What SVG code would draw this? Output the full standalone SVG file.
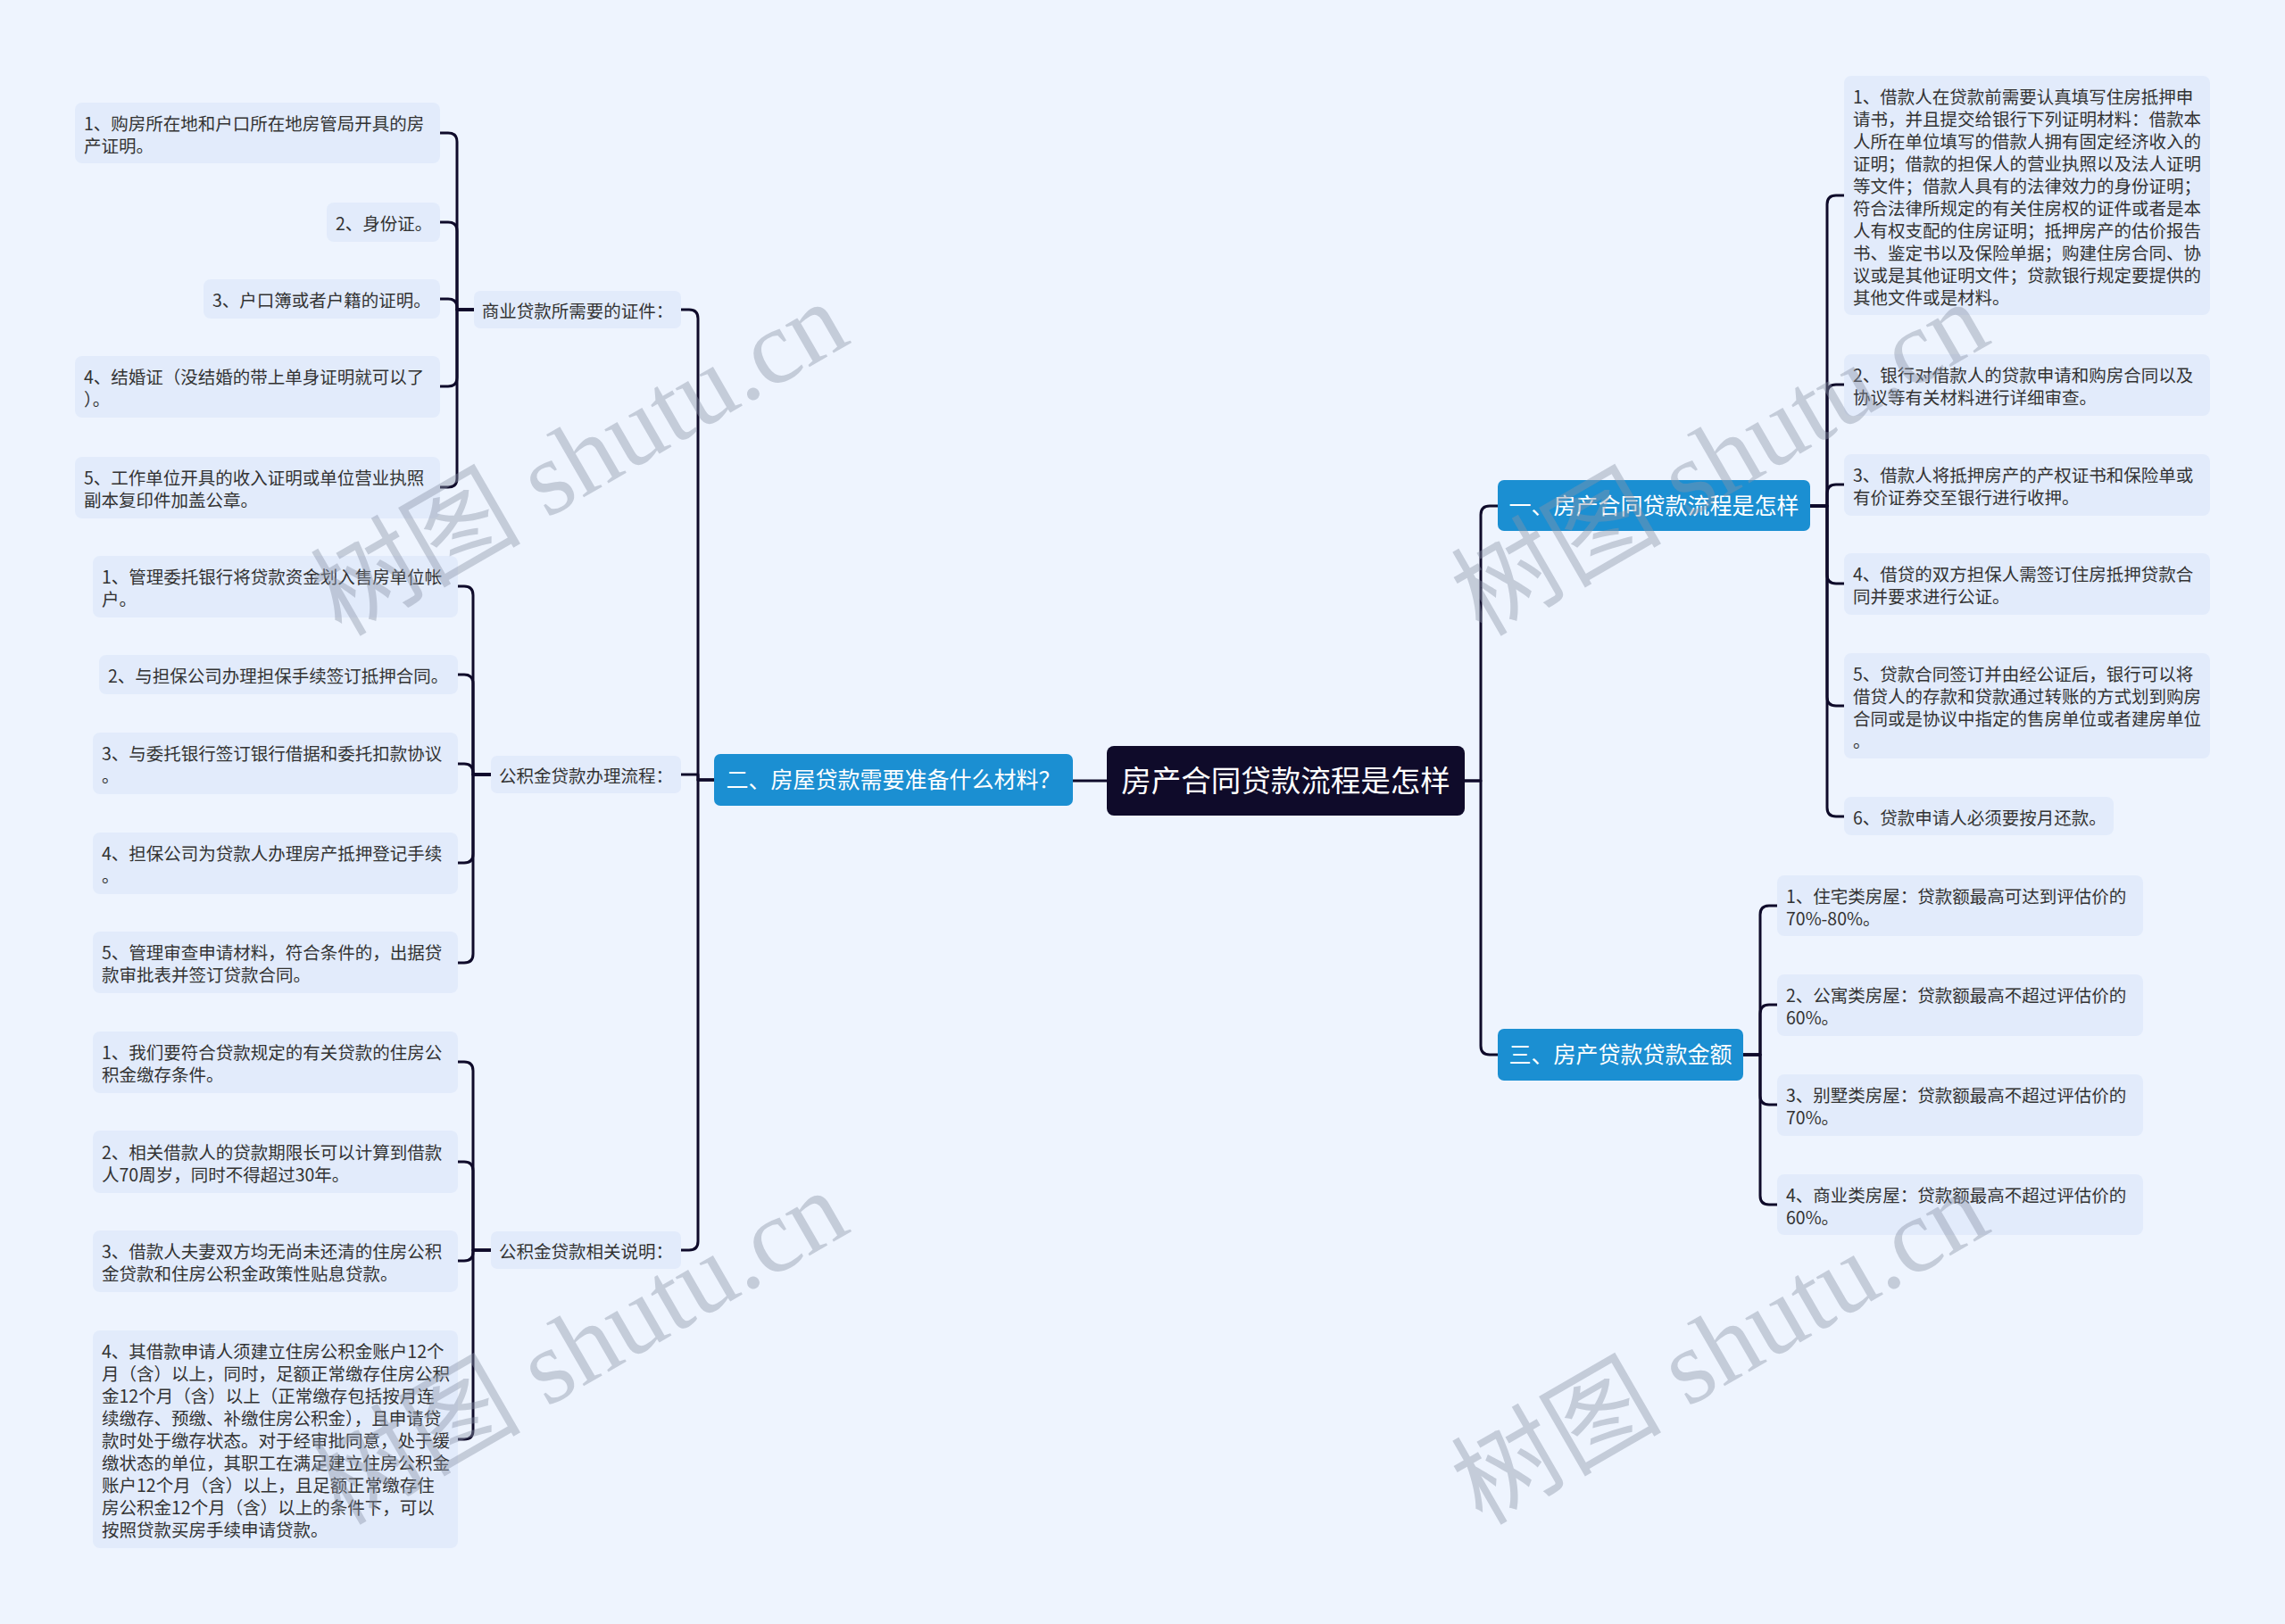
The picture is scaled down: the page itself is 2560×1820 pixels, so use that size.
<svg xmlns="http://www.w3.org/2000/svg" width="2560" height="1820" viewBox="0 0 2560 1820">
<style>
.bg{fill:#eef4fe}
.leaf rect{fill:#e2ebfb}
.leaf text,.sub text{font-family:"Noto Sans CJK SC","Noto Sans",sans-serif;font-size:19.5px;fill:#333333}
.sub rect{fill:#e2ebfb}
.br rect{fill:#1b8fd2}
.br text{font-family:"Noto Sans CJK SC","Noto Sans",sans-serif;font-size:25px;fill:#ffffff;text-anchor:middle}
.root rect{fill:#0f0b2a}
.root text{font-family:"Noto Sans CJK SC","Noto Sans",sans-serif;font-size:33.5px;fill:#ffffff;text-anchor:middle}
.sub text{text-anchor:middle}
#connectors path{fill:none;stroke:#0f0b2a;stroke-width:3;stroke-linecap:round;stroke-linejoin:round}
.wm{font-family:"Liberation Serif","Noto Sans CJK SC",serif;font-size:118px;fill:#8a93a6;fill-opacity:0.42;text-anchor:middle}
</style>
<rect class="bg" x="0" y="0" width="2560" height="1820"/>
<g id="connectors">
<path d="M1240,875 H1202"/>
<path d="M800,874 H782 V357 Q782,347 772,347 H763"/>
<path d="M800,874 H782 V868 H763"/>
<path d="M800,874 H782 V1391 Q782,1401 772,1401 H763"/>
<path d="M1641,875 H1659 V577 Q1659,567 1669,567 H1678"/>
<path d="M1641,875 H1659 V1172 Q1659,1182 1669,1182 H1678"/>
<path d="M531,347 H512 V159 Q512,149 502,149 H493"/>
<path d="M531,347 H512 V259 Q512,249 502,249 H493"/>
<path d="M531,347 H512 V345 Q512,335 502,335 H493"/>
<path d="M531,347 H512 V423 Q512,433 502,433 H493"/>
<path d="M531,347 H512 V536 Q512,546 502,546 H493"/>
<path d="M550,868 H530 V667 Q530,657 520,657 H513"/>
<path d="M550,868 H530 V766 Q530,756 520,756 H513"/>
<path d="M550,868 H530 V866 Q530,856 520,856 H513"/>
<path d="M550,868 H530 V957 Q530,967 520,967 H513"/>
<path d="M550,868 H530 V1069 Q530,1079 520,1079 H513"/>
<path d="M550,1401 H530 V1200 Q530,1190 520,1190 H513"/>
<path d="M550,1401 H530 V1312 Q530,1302 520,1302 H513"/>
<path d="M550,1401 H530 V1403 Q530,1413 520,1413 H513"/>
<path d="M550,1401 H530 V1603 Q530,1613 520,1613 H513"/>
<path d="M2028,567 H2047 V229 Q2047,219 2057,219 H2066"/>
<path d="M2028,567 H2047 V441 Q2047,431 2057,431 H2066"/>
<path d="M2028,567 H2047 V553 Q2047,543 2057,543 H2066"/>
<path d="M2028,567 H2047 V644 Q2047,654 2057,654 H2066"/>
<path d="M2028,567 H2047 V781 Q2047,791 2057,791 H2066"/>
<path d="M2028,567 H2047 V905 Q2047,915 2057,915 H2066"/>
<path d="M1953,1182 H1972 V1025 Q1972,1015 1982,1015 H1991"/>
<path d="M1953,1182 H1972 V1136 Q1972,1126 1982,1126 H1991"/>
<path d="M1953,1182 H1972 V1228 Q1972,1238 1982,1238 H1991"/>
<path d="M1953,1182 H1972 V1340 Q1972,1350 1982,1350 H1991"/>
</g>
<g id="root" class="root"><rect x="1240" y="836" width="401" height="78" rx="8"/><text x="1440.5" y="887">房产合同贷款流程是怎样</text></g>
<g id="b2" class="br"><rect x="800" y="845" width="402" height="58" rx="7"/><text x="1001" y="883">二、房屋贷款需要准备什么材料？</text></g>
<g id="b1" class="br"><rect x="1678" y="538" width="350" height="57" rx="7"/><text x="1853" y="576">一、房产合同贷款流程是怎样</text></g>
<g id="b3" class="br"><rect x="1678" y="1153" width="275" height="58" rx="7"/><text x="1815.5" y="1191">三、房产贷款贷款金额</text></g>
<g id="s1" class="sub"><rect x="531" y="326" width="232" height="42" rx="7"/><text x="647" y="356">商业贷款所需要的证件：</text></g>
<g id="s2" class="sub"><rect x="550" y="847" width="213" height="42" rx="7"/><text x="656.5" y="877">公积金贷款办理流程：</text></g>
<g id="s3" class="sub"><rect x="550" y="1380" width="213" height="42" rx="7"/><text x="656.5" y="1410">公积金贷款相关说明：</text></g>
<g id="l1" class="leaf"><rect x="84" y="115" width="409" height="68" rx="8"/><text x="94" y="145.5">1、购房所在地和户口所在地房管局开具的房</text><text x="94" y="170.5">产证明。</text></g>
<g id="l2" class="leaf"><rect x="366" y="227" width="127" height="44" rx="8"/><text x="376" y="258">2、身份证。</text></g>
<g id="l3" class="leaf"><rect x="228" y="313" width="265" height="44" rx="8"/><text x="238" y="344">3、户口簿或者户籍的证明。</text></g>
<g id="l4" class="leaf"><rect x="84" y="399" width="409" height="69" rx="8"/><text x="94" y="430">4、结婚证（没结婚的带上单身证明就可以了</text><text x="94" y="455">）。</text></g>
<g id="l5" class="leaf"><rect x="84" y="512" width="409" height="69" rx="8"/><text x="94" y="543">5、工作单位开具的收入证明或单位营业执照</text><text x="94" y="568">副本复印件加盖公章。</text></g>
<g id="m1" class="leaf"><rect x="104" y="623" width="409" height="69" rx="8"/><text x="114" y="654">1、管理委托银行将贷款资金划入售房单位帐</text><text x="114" y="679">户。</text></g>
<g id="m2" class="leaf"><rect x="111" y="734" width="402" height="44" rx="8"/><text x="121" y="765">2、与担保公司办理担保手续签订抵押合同。</text></g>
<g id="m3" class="leaf"><rect x="104" y="821" width="409" height="69" rx="8"/><text x="114" y="852">3、与委托银行签订银行借据和委托扣款协议</text><text x="114" y="877">。</text></g>
<g id="m4" class="leaf"><rect x="104" y="933" width="409" height="69" rx="8"/><text x="114" y="964">4、担保公司为贷款人办理房产抵押登记手续</text><text x="114" y="989">。</text></g>
<g id="m5" class="leaf"><rect x="104" y="1044" width="409" height="69" rx="8"/><text x="114" y="1075">5、管理审查申请材料，符合条件的，出据贷</text><text x="114" y="1100">款审批表并签订贷款合同。</text></g>
<g id="n1" class="leaf"><rect x="104" y="1156" width="409" height="69" rx="8"/><text x="114" y="1187">1、我们要符合贷款规定的有关贷款的住房公</text><text x="114" y="1212">积金缴存条件。</text></g>
<g id="n2" class="leaf"><rect x="104" y="1267" width="409" height="70" rx="8"/><text x="114" y="1298.5">2、相关借款人的贷款期限长可以计算到借款</text><text x="114" y="1323.5">人70周岁，同时不得超过30年。</text></g>
<g id="n3" class="leaf"><rect x="104" y="1379" width="409" height="69" rx="8"/><text x="114" y="1410">3、借款人夫妻双方均无尚未还清的住房公积</text><text x="114" y="1435">金贷款和住房公积金政策性贴息贷款。</text></g>
<g id="n4" class="leaf"><rect x="104" y="1491" width="409" height="244" rx="8"/>
<text x="114" y="1522">4、其借款申请人须建立住房公积金账户12个</text>
<text x="114" y="1547">月（含）以上，同时，足额正常缴存住房公积</text>
<text x="114" y="1572">金12个月（含）以上（正常缴存包括按月连</text>
<text x="114" y="1597">续缴存、预缴、补缴住房公积金），且申请贷</text>
<text x="114" y="1622">款时处于缴存状态。对于经审批同意，处于缓</text>
<text x="114" y="1647">缴状态的单位，其职工在满足建立住房公积金</text>
<text x="114" y="1672">账户12个月（含）以上，且足额正常缴存住</text>
<text x="114" y="1697">房公积金12个月（含）以上的条件下，可以</text>
<text x="114" y="1722">按照贷款买房手续申请贷款。</text></g>
<g id="r1" class="leaf"><rect x="2066" y="85" width="410" height="268" rx="8"/>
<text x="2076" y="115.5">1、借款人在贷款前需要认真填写住房抵押申</text>
<text x="2076" y="140.5">请书，并且提交给银行下列证明材料：借款本</text>
<text x="2076" y="165.5">人所在单位填写的借款人拥有固定经济收入的</text>
<text x="2076" y="190.5">证明；借款的担保人的营业执照以及法人证明</text>
<text x="2076" y="215.5">等文件；借款人具有的法律效力的身份证明；</text>
<text x="2076" y="240.5">符合法律所规定的有关住房权的证件或者是本</text>
<text x="2076" y="265.5">人有权支配的住房证明；抵押房产的估价报告</text>
<text x="2076" y="290.5">书、鉴定书以及保险单据；购建住房合同、协</text>
<text x="2076" y="315.5">议或是其他证明文件；贷款银行规定要提供的</text>
<text x="2076" y="340.5">其他文件或是材料。</text></g>
<g id="r2" class="leaf"><rect x="2066" y="397" width="410" height="69" rx="8"/><text x="2076" y="428">2、银行对借款人的贷款申请和购房合同以及</text><text x="2076" y="453">协议等有关材料进行详细审查。</text></g>
<g id="r3" class="leaf"><rect x="2066" y="509" width="410" height="69" rx="8"/><text x="2076" y="540">3、借款人将抵押房产的产权证书和保险单或</text><text x="2076" y="565">有价证券交至银行进行收押。</text></g>
<g id="r4" class="leaf"><rect x="2066" y="620" width="410" height="69" rx="8"/><text x="2076" y="651">4、借贷的双方担保人需签订住房抵押贷款合</text><text x="2076" y="676">同并要求进行公证。</text></g>
<g id="r5" class="leaf"><rect x="2066" y="732" width="410" height="118" rx="8"/>
<text x="2076" y="762.5">5、贷款合同签订并由经公证后，银行可以将</text>
<text x="2076" y="787.5">借贷人的存款和贷款通过转账的方式划到购房</text>
<text x="2076" y="812.5">合同或是协议中指定的售房单位或者建房单位</text>
<text x="2076" y="837.5">。</text></g>
<g id="r6" class="leaf"><rect x="2066" y="893" width="302" height="43" rx="8"/><text x="2076" y="923.5">6、贷款申请人必须要按月还款。</text></g>
<g id="q1" class="leaf"><rect x="1991" y="981" width="410" height="68" rx="8"/><text x="2001" y="1011.5">1、住宅类房屋：贷款额最高可达到评估价的</text><text x="2001" y="1036.5">70%-80%。</text></g>
<g id="q2" class="leaf"><rect x="1991" y="1092" width="410" height="69" rx="8"/><text x="2001" y="1123">2、公寓类房屋：贷款额最高不超过评估价的</text><text x="2001" y="1148">60%。</text></g>
<g id="q3" class="leaf"><rect x="1991" y="1204" width="410" height="69" rx="8"/><text x="2001" y="1235">3、别墅类房屋：贷款额最高不超过评估价的</text><text x="2001" y="1260">70%。</text></g>
<g id="q4" class="leaf"><rect x="1991" y="1316" width="410" height="68" rx="8"/><text x="2001" y="1346.5">4、商业类房屋：贷款额最高不超过评估价的</text><text x="2001" y="1371.5">60%。</text></g>
<g id="watermarks">
<text class="wm" transform="translate(649,514) rotate(-30)" y="40">树图 shutu.cn</text>
<text class="wm" transform="translate(1927,514) rotate(-30)" y="40">树图 shutu.cn</text>
<text class="wm" transform="translate(649,1510) rotate(-30)" y="40">树图 shutu.cn</text>
<text class="wm" transform="translate(1927,1510) rotate(-30)" y="40">树图 shutu.cn</text>
</g>
</svg>
